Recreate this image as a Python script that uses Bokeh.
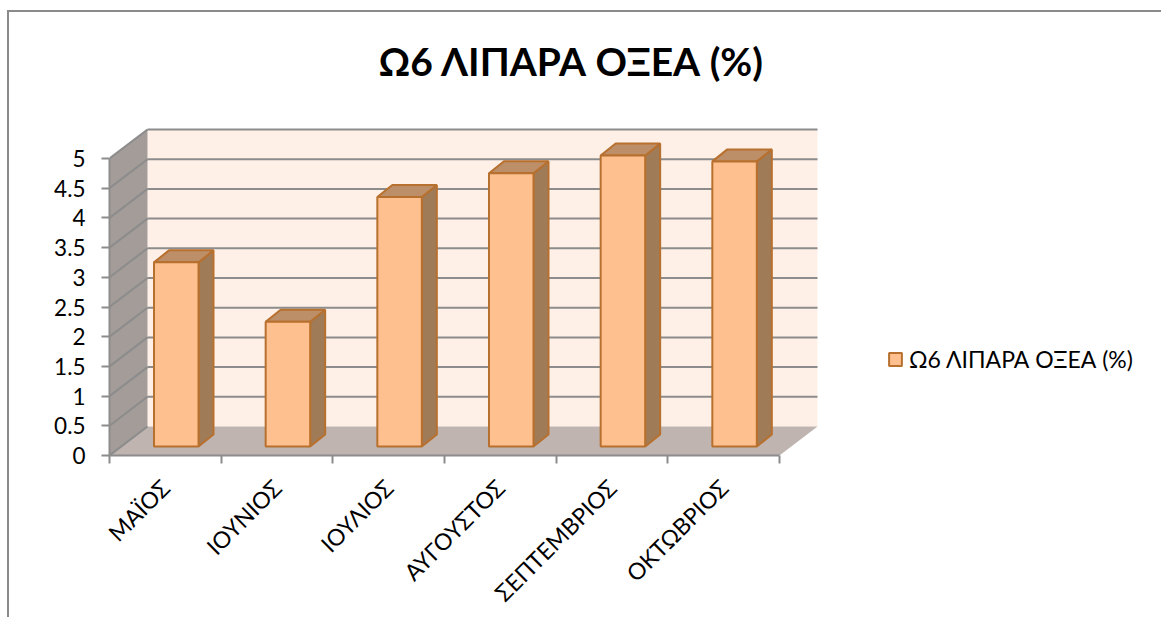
from bokeh.embed import file_html
from bokeh.resources import INLINE
from bokeh.plotting import figure
from bokeh.models import Range1d, FixedTicker, LinearAxis, Legend, LegendItem, Title

months = ["ΜΑΪΟΣ", "ΙΟΥΝΙΟΣ", "ΙΟΥΛΙΟΣ", "ΑΥΓΟΥΣΤΟΣ", "ΣΕΠΤΕΜΒΡΙΟΣ", "ΟΚΤΩΒΡΙΟΣ"]
values = [3.1, 2.1, 4.2, 4.6, 4.9, 4.8]
y_ticks = [0, 0.5, 1, 1.5, 2, 2.5, 3, 3.5, 4, 4.5, 5]
series_name = "Ω6 ΛΙΠΑΡΑ ΟΞΕΑ (%)"
chart_title = "Ω6 ΛΙΠΑΡΑ ΟΞΕΑ (%)"

FONT = "Lato"
EDGE = "#B8702E"
GRID = "#8C8C8C"

# layout (the 2px CSS border is inside the figure's box)
W, H = 1154, 607
LEFT, TOP, BOTTOM = 100, 88, 162
px_x = 670 / 6
px_y = 297 / 5
n = len(months)
DX, DY = 38 / px_x, 29 / px_y      # depth of the 3D box
BX0, BW = 44.5 / px_x, 44.5 / px_x # bar offset and width in a category
BDY = 9 / px_y                     # bar base raised above the floor front
SX, SY = 15 / px_x, 12 / px_y      # bar depth

p = figure(width=W, height=H, output_backend="svg", toolbar_location=None,
           x_range=Range1d(0, (W - LEFT) / px_x), y_range=Range1d(0, (H - 2 - TOP - BOTTOM) / px_y),
           min_border_left=LEFT, min_border_right=0, min_border_top=TOP, min_border_bottom=BOTTOM,
           x_axis_type=None, y_axis_type=None, margin=(10, 0, 0, 7),
           outline_line_color=None, border_fill_color="white", background_fill_color="white")
p.styles = {"border-left": "2px solid #8A8A8A", "border-top": "2px solid #8A8A8A"}
p.xgrid.visible = False
p.ygrid.visible = False

# back wall, left wall, floor
top_v = y_ticks[-1]
p.patch([DX, n + DX, n + DX, DX], [DY, DY, top_v + DY, top_v + DY], fill_color="#FEEFE7", line_color=None)
p.patch([0, DX, DX, 0], [0, DY, top_v + DY, top_v], fill_color="#A39C98", line_color=None)
p.patch([0, n, n + DX, DX], [0, 0, DY, DY], fill_color="#BFB4AF", line_color=None)

# gridlines
wall = [v for v in y_ticks if v > 0]
p.multi_line([[DX, n + DX] for v in wall], [[v + DY, v + DY] for v in wall], line_color=GRID, line_width=2)
p.multi_line([[0, DX] for v in y_ticks], [[v, v + DY] for v in y_ticks], line_color=GRID, line_width=2)

# bars
x0 = [i + BX0 for i in range(n)]
x1 = [x + BW for x in x0]
side = p.patches([[a, a + SX, a + SX, a] for a in x1],
                 [[BDY, BDY + SY, BDY + SY + v, BDY + v] for v in values],
                 fill_color="#A07B58", line_color=EDGE, line_width=2)
topf = p.patches([[a, a + SX, b + SX, b] for a, b in zip(x0, x1)],
                 [[BDY + v, BDY + v + SY, BDY + v + SY, BDY + v] for v in values],
                 fill_color="#BD8F68", line_color=EDGE, line_width=2)
front = p.quad(left=x0, right=x1, bottom=[BDY] * n, top=[BDY + v for v in values],
               fill_color="#FDC08E", line_color=EDGE, line_width=2)

# axes
yax = LinearAxis(ticker=FixedTicker(ticks=y_ticks), bounds=(0, top_v))
yax.axis_line_color = GRID
yax.axis_line_width = 2
yax.major_tick_line_color = GRID
yax.major_tick_line_width = 2
yax.major_tick_out = 8
yax.major_tick_in = 0
yax.major_label_standoff = 16
yax.major_label_text_font = FONT
yax.major_label_text_font_size = "22.5px"
yax.major_label_text_color = "#000000"
p.add_layout(yax, "left")

centers = [i + 0.5 for i in range(n)]
xax = LinearAxis(ticker=FixedTicker(ticks=centers, minor_ticks=list(range(n + 1))), bounds=(0, n))
xax.major_label_overrides = {c: m for c, m in zip(centers, months)}
xax.axis_line_color = GRID
xax.axis_line_width = 2
xax.major_tick_line_color = None
xax.minor_tick_line_color = GRID
xax.minor_tick_line_width = 2
xax.minor_tick_out = 8
xax.minor_tick_in = 0
xax.major_label_orientation = 0.785
xax.major_label_standoff = 20
xax.major_label_text_font = FONT
xax.major_label_text_font_size = "23px"
xax.major_label_text_color = "#000000"
p.add_layout(xax, "below")

# title
t = Title(text=chart_title, text_font=FONT, text_font_size="39px", text_font_style="bold",
          text_color="#000000", align="left", offset=269, standoff=33)
p.add_layout(t, "above")

# legend
leg = Legend(items=[LegendItem(label=series_name, renderers=[front])], location=(778, 82),
             background_fill_alpha=0, border_line_color=None, glyph_width=16, glyph_height=16,
             label_standoff=6, padding=0, margin=0, label_text_font=FONT, label_text_font_size="23px",
             label_text_color="#000000")
p.add_layout(leg, "center")

open("out.html", "w").write(file_html(p, INLINE))
